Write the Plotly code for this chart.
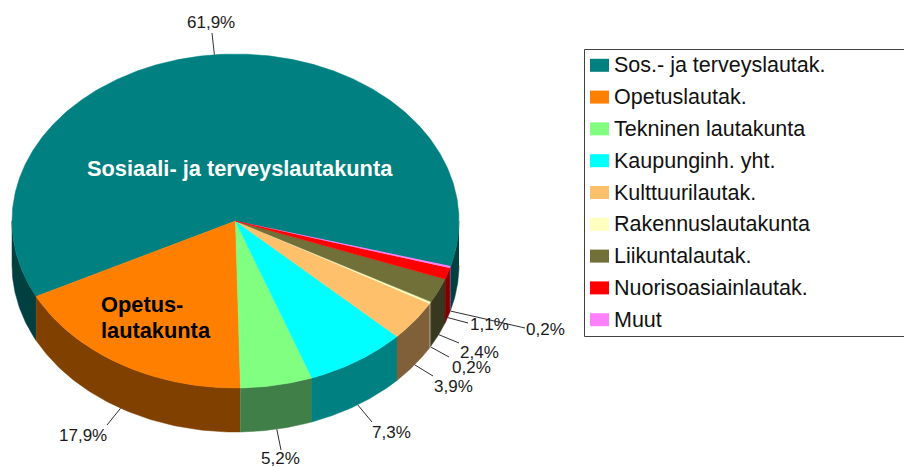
import numpy as np
import plotly.graph_objects as go

# ---- data ----
legend_names = ["Sos.- ja terveyslautak.", "Opetuslautak.", "Tekninen lautakunta", "Kaupunginh. yht.",
                "Kulttuurilautak.", "Rakennuslautakunta", "Liikuntalautak.", "Nuorisoasiainlautak.", "Muut"]
shares = [61.9, 17.9, 5.2, 7.3, 3.9, 0.2, 2.4, 1.1, 0.2]
share_labels = ["61,9%", "17,9%", "5,2%", "7,3%", "3,9%", "0,2%", "2,4%", "1,1%", "0,2%"]
top_colors = ["#008080", "#FF8000", "#80FF80", "#00FFFF", "#FFC06C", "#FFFFC0", "#707038", "#FF0000", "#FF80FF"]
side_colors = ["#004040", "#7F4000", "#408048", "#008080", "#806038", "#808060", "#383820", "#800000", "#804080"]

# ---- layout (page pixels) ----
W, H = 904, 467
CX, CY, RX, RY, DEPTH = 235.5, 221, 223.5, 167, 44
START = 16.0  # degrees, measured clockwise on screen from east
label_xy = [(211, 22), (83, 435), (280, 458), (391, 432), (453, 386), (471, 367), (479, 352), (489, 324), (545, 329)]
leader_end = [(212, 33), (107, 425), (281, 450), (372, 422), (433, 376), (449, 357), (459, 343), (468, 323), (525, 328)]


def edge(theta, drop=0.0):
    t = np.radians(theta)
    return CX + RX * np.cos(t), CY + RY * np.sin(t) + drop


fig = go.Figure()
spans = []
a = START
for v in shares:
    spans.append((a, a - v * 3.6))
    a -= v * 3.6

# side walls: only the front half of the rim can be seen
for (hi, lo), name, col, v in zip(spans, legend_names, side_colors, shares):
    for k in (0, -1):
        b0, b1 = max(lo, 360 * k), min(hi, 180 + 360 * k)
        if b1 <= b0:
            continue
        th = np.linspace(b0, b1, 80)
        x1, y1 = edge(th)
        x2, y2 = edge(th[::-1], DEPTH)
        fig.add_trace(go.Scatter(x=np.r_[x1, x2], y=np.r_[y1, y2], fill="toself", fillcolor=col, mode="lines",
                                 line=dict(color=col, width=0.5 if v >= 1 else 0), showlegend=False, name=name,
                                 hoverinfo="name"))

# top faces
for (hi, lo), name, col, v in zip(spans, legend_names, top_colors, shares):
    th = np.linspace(lo, hi, max(6, int(v * 8)))
    x, y = edge(th)
    fig.add_trace(go.Scatter(x=np.r_[CX, x, CX], y=np.r_[CY, y, CY], fill="toself", fillcolor=col, mode="lines",
                             line=dict(color=col, width=0.5 if v >= 1 else 0), showlegend=False, name=name,
                             hoverinfo="name"))

shapes, ann = [], []
FONT = "Liberation Sans, Arial, sans-serif"

# percentage labels with leader lines
for (hi, lo), txt, (lx, ly), (ex, ey) in zip(spans, share_labels, label_xy, leader_end):
    mid = (hi + lo) / 2
    front = np.sin(np.radians(mid)) > 0
    sx, sy = edge(mid, DEPTH if front else 0)
    shapes.append(dict(type="line", x0=sx, y0=sy, x1=ex, y1=ey, xref="x", yref="y",
                       line=dict(color="#303030", width=1)))
    ann.append(dict(x=lx, y=ly, text=txt, showarrow=False, xref="x", yref="y", xanchor="center", yanchor="middle",
                    font=dict(family=FONT, size=17, color="#1a1a1a")))

# texts inside the pie
ann.append(dict(x=239.5, y=168, text="<b>Sosiaali- ja terveyslautakunta</b>", showarrow=False, xref="x", yref="y",
                font=dict(family=FONT, size=21.8, color="white")))
ann.append(dict(x=99, y=304, text="<b>Opetus-</b>", showarrow=False, xref="x", yref="y", xanchor="left",
                font=dict(family=FONT, size=21.8, color="black")))
ann.append(dict(x=99, y=330, text="<b>lautakunta</b>", showarrow=False, xref="x", yref="y", xanchor="left",
                font=dict(family=FONT, size=21.8, color="black")))

# legend box
shapes.append(dict(type="rect", x0=584.5, y0=49.5, x1=920, y1=336.5, xref="x", yref="y",
                   line=dict(color="#404040", width=1), fillcolor="white", layer="below"))
for i, (name, col) in enumerate(zip(legend_names, top_colors)):
    yc = 65.3 + i * 31.8
    shapes.append(dict(type="rect", x0=590, x1=609, y0=yc - 6.5, y1=yc + 6.5, xref="x", yref="y",
                       fillcolor=col, line=dict(width=0)))
    ann.append(dict(x=612, y=yc, text=name, showarrow=False, xref="x", yref="y", xanchor="left", yanchor="middle",
                    font=dict(family=FONT, size=21.5, color="#111111")))

fig.update_layout(
    width=W, height=H, margin=dict(l=0, r=0, t=0, b=0), paper_bgcolor="white", plot_bgcolor="white",
    xaxis=dict(range=[0, W], visible=False, fixedrange=True),
    yaxis=dict(range=[H, 0], visible=False, fixedrange=True),
    shapes=shapes, annotations=ann, showlegend=False,
)
fig.write_html("out.html", config=dict(displayModeBar=False),
               post_script="document.body.style.margin='0';document.body.style.overflow='hidden';")
